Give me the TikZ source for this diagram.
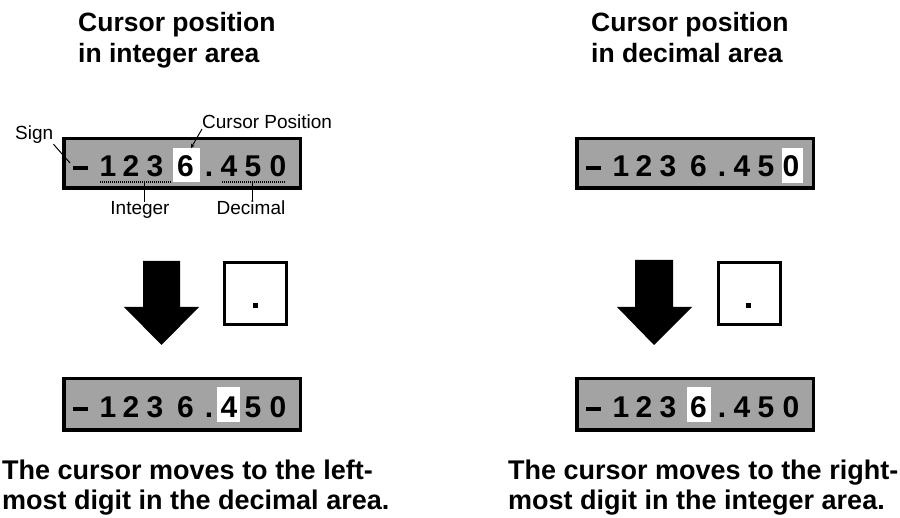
\documentclass[tikz,border=0pt]{standalone}
\usepackage{fontspec}
\setmainfont{Liberation Sans}
\usetikzlibrary{arrows.meta}
\definecolor{lcdgray}{HTML}{A3A3A3}
\tikzset{
  titletext/.style={anchor=base west, inner sep=0pt, font=\fontsize{26.5}{31}\selectfont\bfseries},
  captiontext/.style={anchor=base west, inner sep=0pt, font=\fontsize{27}{31}\selectfont\bfseries},
  smalltext/.style={inner sep=0pt, font=\fontsize{19}{22}\selectfont},
  lcd/.style={draw=black, fill=lcdgray, line width=3.5pt, inner sep=0pt, minimum width=236.5pt},
  digit/.style={anchor=base, inner sep=0pt, font=\fontsize{30}{30}\selectfont\bfseries},
  keybox/.style={draw=black, line width=3pt, fill=white, minimum size=62pt, inner sep=0pt},
  leader/.style={line width=1pt},
  uline/.style={line width=1.5pt, dash pattern=on 1pt off 1pt},
}
% #1 name, #2 x left, #3 y top, #4 y bottom, #5 baseline, #6 hx1, #7 hx2, #8 hy1, #9 hy2
\newcommand{\lcdshow}[9]{%
  \node[lcd, minimum height={(#4-#3-3.5)*1pt}] (#1) at ({#2+120},{(#3+#4)/2}) {};
  \fill[white] (#6,#8) rectangle (#7,#9);
  \draw[line width=4pt] ({#2+11},{#5-9}) -- ({#2+26},{#5-9});
  \foreach \dx/\ch [count=\i] in {46/1,69/2,93/3,123.5/6,147/.,167/4,191/5,216/0}
    \node[digit] (#1-\i) at ({#2+\dx},#5) {\ch};
}
\begin{document}
\begin{tikzpicture}[x=1pt,y=-1pt]
\useasboundingbox (0,0) rectangle (900,518);

% titles
\node[titletext] (tl1) at (78,32) {Cursor position};
\node[titletext] (tl2) at (78,63) {in integer area};
\node[titletext] (tr1) at (591,32) {Cursor position};
\node[titletext] (tr2) at (591,63) {in decimal area};

% displays
\lcdshow{lcdTL}{62}{137}{190}{177}{173}{200}{148}{182}
\lcdshow{lcdTR}{575}{137}{190}{177}{782}{803}{148}{183}
\lcdshow{lcdBL}{62}{377}{432}{418}{217}{240}{387}{422}
\lcdshow{lcdBR}{575}{377}{432}{418}{687}{711}{387}{422}

% labels on the first display
\node[smalltext, anchor=base west] (sign) at (15,140) {Sign};
\node[smalltext, anchor=base west] (cpos) at (202,129) {Cursor Position};
\node[smalltext, anchor=base] (intl) at (140,215) {Integer};
\node[smalltext, anchor=base] (decl) at (251,215) {Decimal};

\coordinate (signtip) at (70,163);
\coordinate (cursortip) at (191,148);
\coordinate (intU) at (144,183);
\coordinate (decU) at (252,183);
\draw[leader] (sign.south east) -- (signtip);
\draw[leader, -{Stealth[length=4pt,width=4pt]}] (cpos.base west) -- (cursortip);
\draw[uline] (100,182) -- (172,182);
\draw[uline] (222,182) -- (285,182);
\draw[leader] (intU) -- (intl.north -| intU);
\draw[leader] (decU) -- (decl.north -| decU);

% down arrows
\fill (143,261) -- (180,261) -- (180,307) -- (199,307) -- (161.5,345) -- (124,307) -- (143,307) -- cycle;
\fill (635,260) -- (673,260) -- (673,307) -- (692,307) -- (654,345) -- (617,307) -- (635,307) -- cycle;

% decimal point keys
\node[keybox] (keyL) at (255.5,293.5) {};
\fill (253,303) rectangle (258,308);
\node[keybox] (keyR) at (749,293.5) {};
\fill (746,303) rectangle (751,308);

% captions
\node[captiontext] (cl1) at (2,480) {The cursor moves to the left-};
\node[captiontext] (cl2) at (2,510) {most digit in the decimal area.};
\node[captiontext] (cr1) at (508,480) {The cursor moves to the right-};
\node[captiontext] (cr2) at (508,510) {most digit in the integer area.};
\end{tikzpicture}
\end{document}
